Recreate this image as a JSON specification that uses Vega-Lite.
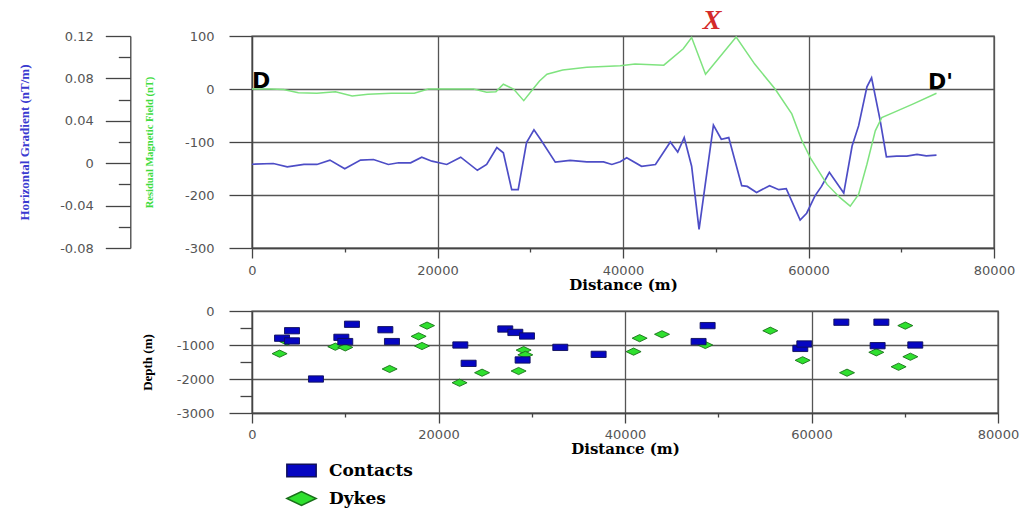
{
  "$schema": "https://vega.github.io/schema/vega-lite/v6.json",
  "padding": {"left": 17, "top": 6, "right": 5, "bottom": 5},
  "background": "white",
  "bounds": "flush",
  "spacing": 63,
  "datasets": {
    "gradient": [
      {"dist": 0, "grad": -0.001}, {"dist": 2300, "grad": -0.0003}, {"dist": 3800, "grad": -0.0034},
      {"dist": 5600, "grad": -0.0012}, {"dist": 7000, "grad": -0.0012}, {"dist": 8400, "grad": 0.0029},
      {"dist": 10000, "grad": -0.0053}, {"dist": 11700, "grad": 0.0029}, {"dist": 13100, "grad": 0.0035},
      {"dist": 14700, "grad": -0.0012}, {"dist": 15800, "grad": 0.0004}, {"dist": 17100, "grad": 0.0004},
      {"dist": 18300, "grad": 0.0057}, {"dist": 19400, "grad": 0.0019}, {"dist": 21000, "grad": -0.0012},
      {"dist": 22500, "grad": 0.0057}, {"dist": 24300, "grad": -0.0067}, {"dist": 25300, "grad": -0.0012},
      {"dist": 26400, "grad": 0.0147}, {"dist": 27100, "grad": 0.0099}, {"dist": 28000, "grad": -0.025},
      {"dist": 28700, "grad": -0.025}, {"dist": 29600, "grad": 0.0194}, {"dist": 30400, "grad": 0.0315},
      {"dist": 31100, "grad": 0.0226}, {"dist": 32700, "grad": 0.001}, {"dist": 34300, "grad": 0.0026},
      {"dist": 36100, "grad": 0.0013}, {"dist": 37900, "grad": 0.0013}, {"dist": 38800, "grad": -0.0012},
      {"dist": 39700, "grad": 0.0013}, {"dist": 40400, "grad": 0.0051}, {"dist": 42000, "grad": -0.0029},
      {"dist": 43500, "grad": -0.0012}, {"dist": 45100, "grad": 0.02}, {"dist": 45900, "grad": 0.0105},
      {"dist": 46600, "grad": 0.0242}, {"dist": 47400, "grad": -0.0029}, {"dist": 48200, "grad": -0.0625},
      {"dist": 49750, "grad": 0.0359}, {"dist": 50600, "grad": 0.0226}, {"dist": 51400, "grad": 0.0242},
      {"dist": 52800, "grad": -0.0212}, {"dist": 53400, "grad": -0.0219}, {"dist": 54400, "grad": -0.0276},
      {"dist": 55800, "grad": -0.0212}, {"dist": 56800, "grad": -0.025}, {"dist": 57600, "grad": -0.0241},
      {"dist": 59100, "grad": -0.0536}, {"dist": 59800, "grad": -0.0472}, {"dist": 60700, "grad": -0.0308},
      {"dist": 61400, "grad": -0.0219}, {"dist": 62250, "grad": -0.0086}, {"dist": 63800, "grad": -0.0282},
      {"dist": 64700, "grad": 0.0162}, {"dist": 65400, "grad": 0.0352}, {"dist": 66300, "grad": 0.072},
      {"dist": 66800, "grad": 0.0805}, {"dist": 67700, "grad": 0.0416}, {"dist": 68400, "grad": 0.0061},
      {"dist": 69500, "grad": 0.0067}, {"dist": 70600, "grad": 0.0067}, {"dist": 71700, "grad": 0.0083},
      {"dist": 72700, "grad": 0.007}, {"dist": 73800, "grad": 0.0076}
    ],
    "field": [
      {"dist": 0, "nT": 0}, {"dist": 2000, "nT": 0}, {"dist": 3400, "nT": -1}, {"dist": 5000, "nT": -7},
      {"dist": 7000, "nT": -8}, {"dist": 9000, "nT": -5}, {"dist": 10800, "nT": -13}, {"dist": 12500, "nT": -10},
      {"dist": 15000, "nT": -8}, {"dist": 17500, "nT": -8}, {"dist": 19000, "nT": 0}, {"dist": 21000, "nT": 0},
      {"dist": 23900, "nT": 0}, {"dist": 25300, "nT": -6}, {"dist": 26300, "nT": -5}, {"dist": 27100, "nT": 9},
      {"dist": 28200, "nT": 0}, {"dist": 29300, "nT": -22}, {"dist": 30300, "nT": 0}, {"dist": 31000, "nT": 15},
      {"dist": 31800, "nT": 28}, {"dist": 33500, "nT": 36}, {"dist": 36100, "nT": 41}, {"dist": 39700, "nT": 44},
      {"dist": 41300, "nT": 47}, {"dist": 44400, "nT": 45}, {"dist": 46500, "nT": 76}, {"dist": 47400, "nT": 97},
      {"dist": 48900, "nT": 28}, {"dist": 52200, "nT": 98}, {"dist": 54200, "nT": 47}, {"dist": 56400, "nT": 0},
      {"dist": 58200, "nT": -47}, {"dist": 59300, "nT": -98}, {"dist": 60200, "nT": -130}, {"dist": 62000, "nT": -180},
      {"dist": 63400, "nT": -205}, {"dist": 64500, "nT": -221}, {"dist": 65400, "nT": -199}, {"dist": 66300, "nT": -142},
      {"dist": 67200, "nT": -79}, {"dist": 67900, "nT": -54}, {"dist": 69200, "nT": -44}, {"dist": 71300, "nT": -28},
      {"dist": 73800, "nT": -8}
    ],
    "sources": [
      {"dist": 2960, "depth": -1255, "type": "Dykes"}, {"dist": 3750, "depth": -900, "type": "Dykes"},
      {"dist": 8930, "depth": -1050, "type": "Dykes"}, {"dist": 10000, "depth": -1070, "type": "Dykes"},
      {"dist": 14760, "depth": -1705, "type": "Dykes"}, {"dist": 17870, "depth": -745, "type": "Dykes"},
      {"dist": 18230, "depth": -1030, "type": "Dykes"}, {"dist": 18770, "depth": -430, "type": "Dykes"},
      {"dist": 22260, "depth": -2110, "type": "Dykes"}, {"dist": 24670, "depth": -1815, "type": "Dykes"},
      {"dist": 28590, "depth": -1765, "type": "Dykes"}, {"dist": 29130, "depth": -1150, "type": "Dykes"},
      {"dist": 29310, "depth": -1290, "type": "Dykes"}, {"dist": 40920, "depth": -1195, "type": "Dykes"},
      {"dist": 41570, "depth": -800, "type": "Dykes"}, {"dist": 43970, "depth": -685, "type": "Dykes"},
      {"dist": 48610, "depth": -1000, "type": "Dykes"}, {"dist": 55580, "depth": -580, "type": "Dykes"},
      {"dist": 59050, "depth": -1450, "type": "Dykes"}, {"dist": 63810, "depth": -1815, "type": "Dykes"},
      {"dist": 66950, "depth": -1215, "type": "Dykes"}, {"dist": 69340, "depth": -1640, "type": "Dykes"},
      {"dist": 70060, "depth": -430, "type": "Dykes"}, {"dist": 70600, "depth": -1345, "type": "Dykes"},
      {"dist": 3220, "depth": -800, "type": "Contacts"}, {"dist": 4290, "depth": -580, "type": "Contacts"},
      {"dist": 4290, "depth": -880, "type": "Contacts"}, {"dist": 6860, "depth": -2000, "type": "Contacts"},
      {"dist": 9580, "depth": -775, "type": "Contacts"}, {"dist": 10000, "depth": -900, "type": "Contacts"},
      {"dist": 10720, "depth": -390, "type": "Contacts"}, {"dist": 14300, "depth": -550, "type": "Contacts"},
      {"dist": 15010, "depth": -900, "type": "Contacts"}, {"dist": 22340, "depth": -1000, "type": "Contacts"},
      {"dist": 23230, "depth": -1540, "type": "Contacts"}, {"dist": 27160, "depth": -530, "type": "Contacts"},
      {"dist": 28240, "depth": -630, "type": "Contacts"}, {"dist": 29490, "depth": -735, "type": "Contacts"},
      {"dist": 29020, "depth": -1440, "type": "Contacts"}, {"dist": 33060, "depth": -1070, "type": "Contacts"},
      {"dist": 37170, "depth": -1275, "type": "Contacts"}, {"dist": 48860, "depth": -430, "type": "Contacts"},
      {"dist": 47890, "depth": -900, "type": "Contacts"}, {"dist": 58800, "depth": -1100, "type": "Contacts"},
      {"dist": 59230, "depth": -970, "type": "Contacts"}, {"dist": 63200, "depth": -330, "type": "Contacts"},
      {"dist": 67490, "depth": -330, "type": "Contacts"}, {"dist": 67090, "depth": -1020, "type": "Contacts"},
      {"dist": 71130, "depth": -1000, "type": "Contacts"}
    ]
  },
  "config": {
    "view": {"stroke": "#555", "strokeWidth": 1.4},
    "axis": {
      "labelFont": "DejaVu Sans", "labelFontSize": 13, "labelColor": "#555",
      "tickColor": "#444", "tickWidth": 1.3, "domainColor": "#444", "domainWidth": 1.3,
      "gridColor": "#555", "gridWidth": 1.3,
      "titleFont": "DejaVu Serif", "titleFontWeight": "bold", "titleColor": "#000"
    },
    "legend": {
      "labelFont": "DejaVu Serif", "labelFontWeight": "bold", "labelColor": "#000",
      "labelFontSize": 17, "symbolSize": 860, "labelOffset": 12, "rowPadding": 3
    }
  },
  "vconcat": [
    {
      "width": 742,
      "height": 212,
      "layer": [
        {
          "data": {"name": "gradient"},
          "mark": {"type": "line", "color": "#4d4dc6", "strokeWidth": 1.7},
          "encoding": {
            "x": {
              "field": "dist", "type": "quantitative",
              "scale": {"domain": [0, 80000], "nice": false},
              "axis": {
                "values": [0, 10000, 20000, 30000, 40000, 50000, 60000, 70000, 80000],
                "labelExpr": "datum.value % 20000 === 0 ? '' + datum.value : ''",
                "labelFlush": false,
                "tickSize": {"condition": {"test": "datum.value % 20000 !== 0", "value": 4}, "value": 10},
                "grid": true,
                "gridOpacity": {"condition": {"test": "datum.value % 20000 !== 0", "value": 0}, "value": 1},
                "labelPadding": 6,
                "title": "Distance (m)", "titleFontSize": 15, "titlePadding": 0
              }
            },
            "y": {
              "field": "grad", "type": "quantitative",
              "scale": {"domain": [-0.08, 0.12], "nice": false, "zero": false},
              "axis": {
                "orient": "left", "offset": 121.7, "grid": false,
                "values": [-0.08, -0.06, -0.04, -0.02, 0, 0.02, 0.04, 0.06, 0.08, 0.1, 0.12],
                "labelExpr": "round(datum.value * 100) % 4 === 0 ? '' + datum.value : ''",
                "tickSize": {"condition": {"test": "round(datum.value * 100) % 4 !== 0", "value": 12}, "value": 25},
                "labelPadding": 12,
                "title": "Horizontal Gradient (nT/m)", "titleFont": "Liberation Serif",
                "titleFontSize": 13, "titleColor": "#3a3ad0", "titlePadding": 28
              }
            }
          }
        },
        {
          "layer": [
            {
              "data": {"name": "field"},
              "mark": {"type": "line", "color": "#7fe37f", "strokeWidth": 1.5},
              "encoding": {
                "x": {"field": "dist", "type": "quantitative"},
                "y": {
                  "field": "nT", "type": "quantitative",
                  "scale": {"domain": [-300, 100], "nice": false},
                  "axis": {
                    "orient": "left", "grid": true,
                    "values": [-300, -250, -200, -150, -100, -50, 0, 50, 100],
                    "labelExpr": "datum.value % 100 === 0 ? '' + datum.value : ''",
                    "tickSize": {"condition": {"test": "datum.value % 100 !== 0", "value": 11}, "value": 23},
                    "gridOpacity": {"condition": {"test": "datum.value % 100 !== 0", "value": 0}, "value": 1},
                    "labelPadding": 15,
                    "title": "Residual Magnetic Field (nT)", "titleFont": "Liberation Serif",
                    "titleFontSize": 10.5, "titleColor": "#3fdc3f", "titlePadding": 30
                  }
                }
              }
            },
            {
              "data": {"values": [
                {"dist": 0, "nT": 16, "label": "D"},
                {"dist": 72880, "nT": 14, "label": "D'"}
              ]},
              "mark": {"type": "text", "align": "left", "baseline": "middle", "font": "DejaVu Sans", "fontWeight": "bold", "fontSize": 22, "color": "#000"},
              "encoding": {
                "x": {"field": "dist", "type": "quantitative"},
                "y": {"field": "nT", "type": "quantitative"},
                "text": {"field": "label"}
              }
            },
            {
              "data": {"values": [{"dist": 49600, "nT": 128, "label": "X"}]},
              "mark": {"type": "text", "align": "center", "baseline": "middle", "font": "Liberation Serif", "fontWeight": "bold", "fontStyle": "italic", "fontSize": 28, "color": "#d42a2a"},
              "encoding": {
                "x": {"field": "dist", "type": "quantitative"},
                "y": {"field": "nT", "type": "quantitative"},
                "text": {"field": "label"}
              }
            }
          ]
        }
      ],
      "resolve": {"scale": {"y": "independent"}}
    },
    {
      "width": 746,
      "height": 102,
      "data": {"name": "sources"},
      "mark": {"type": "point", "opacity": 1, "fillOpacity": 1, "strokeWidth": 0.9, "size": 225},
      "encoding": {
        "x": {
          "field": "dist", "type": "quantitative",
          "scale": {"domain": [0, 80000], "nice": false},
          "axis": {
            "values": [0, 10000, 20000, 30000, 40000, 50000, 60000, 70000, 80000],
            "labelExpr": "datum.value % 20000 === 0 ? '' + datum.value : ''",
            "labelFlush": false,
            "tickSize": {"condition": {"test": "datum.value % 20000 !== 0", "value": 4}, "value": 10},
            "grid": true,
            "gridOpacity": {"condition": {"test": "datum.value % 20000 !== 0", "value": 0}, "value": 1},
            "labelPadding": 5,
            "title": "Distance (m)", "titleFontSize": 15, "titlePadding": 0
          }
        },
        "y": {
          "field": "depth", "type": "quantitative",
          "scale": {"domain": [-3000, 0], "nice": false},
          "axis": {
            "values": [-3000, -2500, -2000, -1500, -1000, -500, 0],
            "labelExpr": "datum.value % 1000 === 0 ? '' + datum.value : ''",
            "tickSize": {"condition": {"test": "datum.value % 1000 !== 0", "value": 12}, "value": 23},
            "grid": true,
            "gridOpacity": {"condition": {"test": "datum.value % 1000 !== 0", "value": 0}, "value": 1},
            "labelPadding": 15,
            "title": "Depth (m)", "titleFont": "Liberation Serif", "titleFontSize": 13, "titlePadding": 22
          }
        },
        "shape": {
          "field": "type", "type": "nominal",
          "scale": {"domain": ["Contacts", "Dykes"], "range": ["M-1,-0.42H1V0.42H-1Z", "M-1,0L0,-0.48L1,0L0,0.48Z"]},
          "legend": {"title": null, "orient": "none", "legendX": 34, "legendY": 419}
        },
        "fill": {
          "field": "type", "type": "nominal",
          "scale": {"domain": ["Contacts", "Dykes"], "range": ["#0606c2", "#2fe02f"]},
          "legend": {"title": null, "orient": "none", "legendX": 34, "legendY": 419}
        },
        "stroke": {
          "field": "type", "type": "nominal",
          "scale": {"domain": ["Contacts", "Dykes"], "range": ["#10105a", "#1a701a"]},
          "legend": {"title": null, "orient": "none", "legendX": 34, "legendY": 419}
        }
      }
    }
  ]
}
